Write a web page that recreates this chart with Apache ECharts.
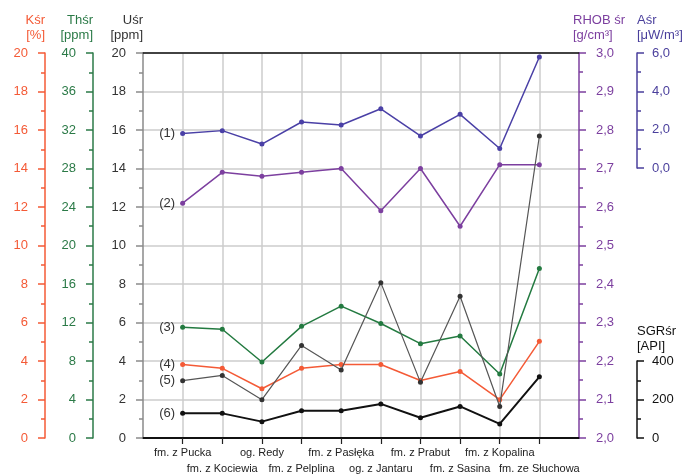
<!DOCTYPE html>
<html>
<head>
<meta charset="utf-8">
<script src="https://cdn.jsdelivr.net/npm/echarts@6/dist/echarts.min.js"></script>
<style>html,body{margin:0;padding:0;background:#fff;}#c{width:684px;height:475px;}</style>
</head>
<body>
<div id="c"></div>
<script>
const categories = ['fm. z Pucka','fm. z Kociewia','og. Redy','fm. z Pelplina','fm. z Pasłęka','og. z Jantaru','fm. z Prabut','fm. z Sasina','fm. z Kopalina','fm. ze Słuchowa'];
const aSr    = [1.80, 1.95, 1.25, 2.40, 2.24, 3.09, 1.67, 2.80, 1.02, 5.79];
const rhobSr = [2.61, 2.69, 2.68, 2.69, 2.70, 2.59, 2.70, 2.55, 2.71, 2.71];
const thSr   = [11.5, 11.3, 7.9, 11.6, 13.7, 11.9, 9.8, 10.6, 6.65, 17.6];
const kSr    = [3.82, 3.62, 2.56, 3.62, 3.82, 3.82, 2.99, 3.46, 1.99, 5.02];
const uSr    = [2.98, 3.25, 1.99, 4.81, 3.53, 8.07, 2.89, 7.36, 1.64, 15.69];
const sgrSr  = [128, 128, 85, 142, 142, 177, 105, 164, 73, 318];
const seriesTags = ['(1)','(2)','(3)','(4)','(5)','(6)'];

const FONT = "'Liberation Sans', Arial, sans-serif";
const C_K = '#f45a36', C_TH = '#2b7a47', C_U = '#8a8a8a', C_RHOB = '#7c3f9f', C_A = '#4a3f9c', C_SGR = '#111111';
// padded category list: empty slot at each end of the axis
const xCats = [''].concat(categories, ['']);
const inner = function(i){ return i > 0 && i < xCats.length - 1; };
const rowA = function(i){ return inner(i) && i % 2 === 1; };   // upper label row
const rowB = function(i){ return inner(i) && i % 2 === 0; };   // lower label row

function pts(arr){ return arr.map((v,i)=>[i+1, v]); }
function comma(v){ return (Math.round(v*10)/10).toFixed(1).replace('.', ','); }

function yAx(o){
  return Object.assign({
    type:'value',
    axisLine:{show:true, onZero:false, lineStyle:{color:o.color, width:1.5}},
    axisTick:{show:true, length:7, lineStyle:{color:o.color, width:1.5}},
    minorTick:{show:true, splitNumber:2, length:4, lineStyle:{color:o.color, width:1.5}},
    axisLabel:{color:o.color, fontSize:13, fontFamily:FONT, margin:17},
    splitLine:{show:false},
    nameLocation:'end',
    nameGap:10,
    nameTextStyle:{color:o.color, fontSize:13, fontFamily:FONT, lineHeight:15, align:o.position==='left'?'right':'left'}
  }, o);
}

function xLabelAxis(filter, margin, showLine, showSplit){
  return {gridIndex:0, type:'category', data:xCats, boundaryGap:false, position:'bottom', offset:0,
    axisLine:{show:showLine, onZero:false, lineStyle:{color:'#111', width:2}},
    axisTick:{show:true, length:6, interval:function(i){return filter(i);}, lineStyle:{color:'#222', width:1.2}},
    axisLabel:{color:'#222', fontSize:11, fontFamily:FONT, margin:margin, interval:function(i){return filter(i);},
      showMinLabel:true, showMaxLabel:true},
    splitLine:{show:showSplit, interval:function(i){return inner(i);}, lineStyle:{color:'#cccccc', width:1.5}}};
}

const gridBase = {left:143, right:105, outerBoundsMode:'none', containLabel:false};
const option = {
  animation:false,
  grid:[
    Object.assign({top:53, height:385}, gridBase),
    Object.assign({top:53, height:115}, gridBase),
    Object.assign({top:361, height:77}, gridBase)
  ],
  xAxis:[
    xLabelAxis(rowA, 9, true, true),
    {gridIndex:0, type:'category', data:xCats, boundaryGap:false, position:'top',
     axisLine:{show:true, onZero:false, lineStyle:{color:'#111', width:1.5}},
     axisTick:{show:false}, axisLabel:{show:false}, splitLine:{show:false}},
    {gridIndex:1, type:'category', data:xCats, boundaryGap:false, show:false},
    {gridIndex:2, type:'category', data:xCats, boundaryGap:false, show:false},
    xLabelAxis(rowB, 25, false, false)
  ],
  yAxis:[
    yAx({gridIndex:0, position:'left', offset:0, min:0, max:20, interval:2, color:C_U, name:'Uśr\n[ppm]',
         axisLabel:{color:'#333', fontSize:13, fontFamily:FONT, margin:17},
         nameTextStyle:{color:'#333', fontSize:13, fontFamily:FONT, lineHeight:15, align:'right'},
         splitLine:{show:true, lineStyle:{color:'#cccccc', width:1.5}}}),
    yAx({gridIndex:0, position:'left', offset:50, min:0, max:40, interval:4, color:C_TH, name:'Thśr\n[ppm]'}),
    yAx({gridIndex:0, position:'left', offset:98, min:0, max:20, interval:2, color:C_K, name:'Kśr\n[%]'}),
    yAx({gridIndex:0, position:'right', offset:0, min:2.0, max:3.0, interval:0.1, color:C_RHOB, name:'RHOB śr\n[g/cm³]',
         axisLabel:{color:C_RHOB, fontSize:13, fontFamily:FONT, margin:17, formatter:comma},
         nameTextStyle:{color:C_RHOB, fontSize:13, fontFamily:FONT, lineHeight:15, align:'left', padding:[0,0,0,-6]}}),
    yAx({gridIndex:1, position:'right', offset:58, min:0, max:6, interval:2, color:C_A, name:'Aśr\n[μW/m³]',
         axisLabel:{color:C_A, fontSize:13, fontFamily:FONT, margin:15, formatter:comma}}),
    yAx({gridIndex:2, position:'right', offset:58, min:0, max:400, interval:200, color:C_SGR, name:'SGRśr\n[API]', nameGap:7,
         axisLabel:{color:'#111', fontSize:13, fontFamily:FONT, margin:15}})
  ],
  series:[]
};

const defs = [
  {data:aSr,    x:2, y:4, color:'#4a40a6', w:1.5},
  {data:rhobSr, x:0, y:3, color:'#7c3f9f', w:1.5},
  {data:thSr,   x:0, y:1, color:'#237a40', w:1.5},
  {data:kSr,    x:0, y:2, color:'#f45a36', w:1.5},
  {data:uSr,    x:0, y:0, color:'#555555', w:1.2, sym:'#333'},
  {data:sgrSr,  x:3, y:5, color:'#111111', w:2}
];
defs.forEach((d,k)=>{
  const data = pts(d.data).map((p,i)=> i===0 ? {value:p, label:{show:true, position:'left', distance:5, formatter:seriesTags[k], color:'#333', fontSize:13, fontFamily:FONT}} : p);
  option.series.push({
    type:'line', xAxisIndex:d.x, yAxisIndex:d.y, data:data, clip:false,
    symbol:'circle', symbolSize:5, showSymbol:true,
    lineStyle:{color:d.color, width:d.w},
    itemStyle:{color:d.sym||d.color},
    z:3+k
  });
});

const chart = echarts.init(document.getElementById('c'), null, {renderer:'canvas'});
chart.setOption(option);
</script>
</body>
</html>
